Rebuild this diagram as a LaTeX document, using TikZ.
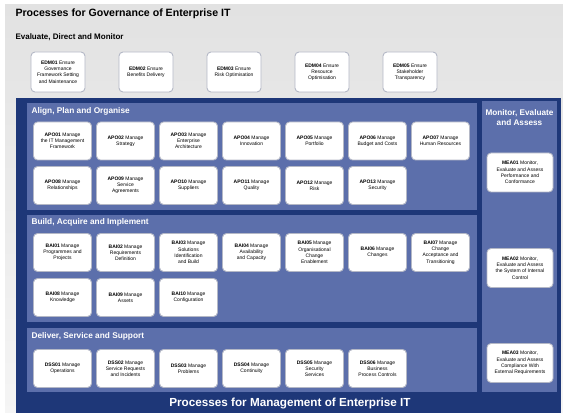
\documentclass[tikz,border=0pt]{standalone}
\usepackage{fontspec}
\setmainfont{Liberation Sans}

\definecolor{cobitnavy}{HTML}{1E3778}
\definecolor{cobitpanel}{HTML}{5C6FAB}
\definecolor{cobitgray}{HTML}{E2E2E2}
\definecolor{cobitedge}{HTML}{B4B8C6}

\tikzset{
  proc/.style={draw=cobitedge, line width=0.9pt, fill=white, rounded corners=4pt,
    minimum width=58pt, minimum height=38pt, inner sep=1pt, align=center,
    font=\fontsize{5}{6.2}\selectfont},
  edmproc/.style={proc, minimum width=54pt, minimum height=40pt},
  meaproc/.style={proc, minimum width=66pt, minimum height=39pt},
  heading/.style={anchor=west, text=white, font=\bfseries\fontsize{8.3}{9}\selectfont},
}

\begin{document}
\begin{tikzpicture}[x=1pt, y=-1pt]
\useasboundingbox (0,0) rectangle (563,414);

% governance band and management frame
\shade[top color=cobitgray, bottom color=cobitgray!35!white] (5,5) rectangle (563,413);
\fill[cobitnavy] (16,98) rectangle (561,413);
\fill[cobitpanel] (27,103) rectangle (477,210);
\fill[cobitpanel] (27,215) rectangle (477,322);
\fill[cobitpanel] (27,328) rectangle (477,392);
\fill[cobitpanel] (482,101) rectangle (557,392);

% titles
\node[anchor=west, font=\bfseries\fontsize{10.6}{12}\selectfont] (govtitle) at (12,14) {Processes for Governance of Enterprise IT};
\node[anchor=west, font=\bfseries\fontsize{8}{9}\selectfont] (edmtitle) at (12,37) {Evaluate, Direct and Monitor};
\node[text=white, font=\bfseries\fontsize{11.7}{13}\selectfont] (mgmttitle) at (290,404) {Processes for Management of Enterprise IT};

% Evaluate, Direct and Monitor
\node[edmproc] (edm01) at (58,72) {\textbf{EDM01} Ensure\\Governance\\Framework Setting\\and Maintenance};
\node[edmproc] (edm02) at (146,72) {\textbf{EDM02} Ensure\\Benefits Delivery};
\node[edmproc] (edm03) at (234,72) {\textbf{EDM03} Ensure\\Risk Optimisation};
\node[edmproc] (edm04) at (322,72) {\textbf{EDM04} Ensure\\Resource\\Optimisation};
\node[edmproc] (edm05) at (410,72) {\textbf{EDM05} Ensure\\Stakeholder\\Transparency};

% Align, Plan and Organise
\node[heading] (apotitle) at (28,111.5) {Align, Plan and Organise};
\node[proc] (apo01) at (62.5,141) {\textbf{APO01} Manage\\the IT Management\\Framework};
\node[proc] (apo02) at (125.5,141) {\textbf{APO02} Manage\\Strategy};
\node[proc] (apo03) at (188.5,141) {\textbf{APO03} Manage\\Enterprise\\Architecture};
\node[proc] (apo04) at (251.5,141) {\textbf{APO04} Manage\\Innovation};
\node[proc] (apo05) at (314.5,141) {\textbf{APO05} Manage\\Portfolio};
\node[proc] (apo06) at (377.5,141) {\textbf{APO06} Manage\\Budget and Costs};
\node[proc] (apo07) at (440.5,141) {\textbf{APO07} Manage\\Human Resources};
\node[proc] (apo08) at (62.5,185.5) {\textbf{APO08} Manage\\Relationships};
\node[proc] (apo09) at (125.5,185.5) {\textbf{APO09} Manage\\Service\\Agreements};
\node[proc] (apo10) at (188.5,185.5) {\textbf{APO10} Manage\\Suppliers};
\node[proc] (apo11) at (251.5,185.5) {\textbf{APO11} Manage\\Quality};
\node[proc] (apo12) at (314.5,185.5) {\textbf{APO12} Manage\\Risk};
\node[proc] (apo13) at (377.5,185.5) {\textbf{APO13} Manage\\Security};

% Build, Acquire and Implement
\node[heading] (baititle) at (28,222) {Build, Acquire and Implement};
\node[proc] (bai01) at (62.5,252.5) {\textbf{BAI01} Manage\\Programmes and\\Projects};
\node[proc] (bai02) at (125.5,252.5) {\textbf{BAI02} Manage\\Requirements\\Definition};
\node[proc] (bai03) at (188.5,252.5) {\textbf{BAI03} Manage\\Solutions\\Identification\\and Build};
\node[proc] (bai04) at (251.5,252.5) {\textbf{BAI04} Manage\\Availability\\and Capacity};
\node[proc] (bai05) at (314.5,252.5) {\textbf{BAI05} Manage\\Organisational\\Change\\Enablement};
\node[proc] (bai06) at (377.5,252.5) {\textbf{BAI06} Manage\\Changes};
\node[proc] (bai07) at (440.5,252.5) {\textbf{BAI07} Manage\\Change\\Acceptance and\\Transitioning};
\node[proc] (bai08) at (62.5,297.5) {\textbf{BAI08} Manage\\Knowledge};
\node[proc] (bai09) at (125.5,297.5) {\textbf{BAI09} Manage\\Assets};
\node[proc] (bai10) at (188.5,297.5) {\textbf{BAI10} Manage\\Configuration};

% Deliver, Service and Support
\node[heading] (dsstitle) at (28,336.5) {Deliver, Service and Support};
\node[proc] (dss01) at (62.5,368.5) {\textbf{DSS01} Manage\\Operations};
\node[proc] (dss02) at (125.5,368.5) {\textbf{DSS02} Manage\\Service Requests\\and Incidents};
\node[proc] (dss03) at (188.5,368.5) {\textbf{DSS03} Manage\\Problems};
\node[proc] (dss04) at (251.5,368.5) {\textbf{DSS04} Manage\\Continuity};
\node[proc] (dss05) at (314.5,368.5) {\textbf{DSS05} Manage\\Security\\Services};
\node[proc] (dss06) at (377.5,368.5) {\textbf{DSS06} Manage\\Business\\Process Controls};

% Monitor, Evaluate and Assess
\node[text=white, align=center, font=\bfseries\fontsize{8.2}{10}\selectfont] (meatitle) at (519.5,118) {Monitor, Evaluate\\and Assess};
\node[meaproc] (mea01) at (520,172.5) {\textbf{MEA01} Monitor,\\Evaluate and Assess\\Performance and\\Conformance};
\node[meaproc] (mea02) at (520,268) {\textbf{MEA02} Monitor,\\Evaluate and Assess\\the System of Internal\\Control};
\node[meaproc] (mea03) at (520,363) {\textbf{MEA03} Monitor,\\Evaluate and Assess\\Compliance With\\External Requirements};
\end{tikzpicture}
\end{document}
